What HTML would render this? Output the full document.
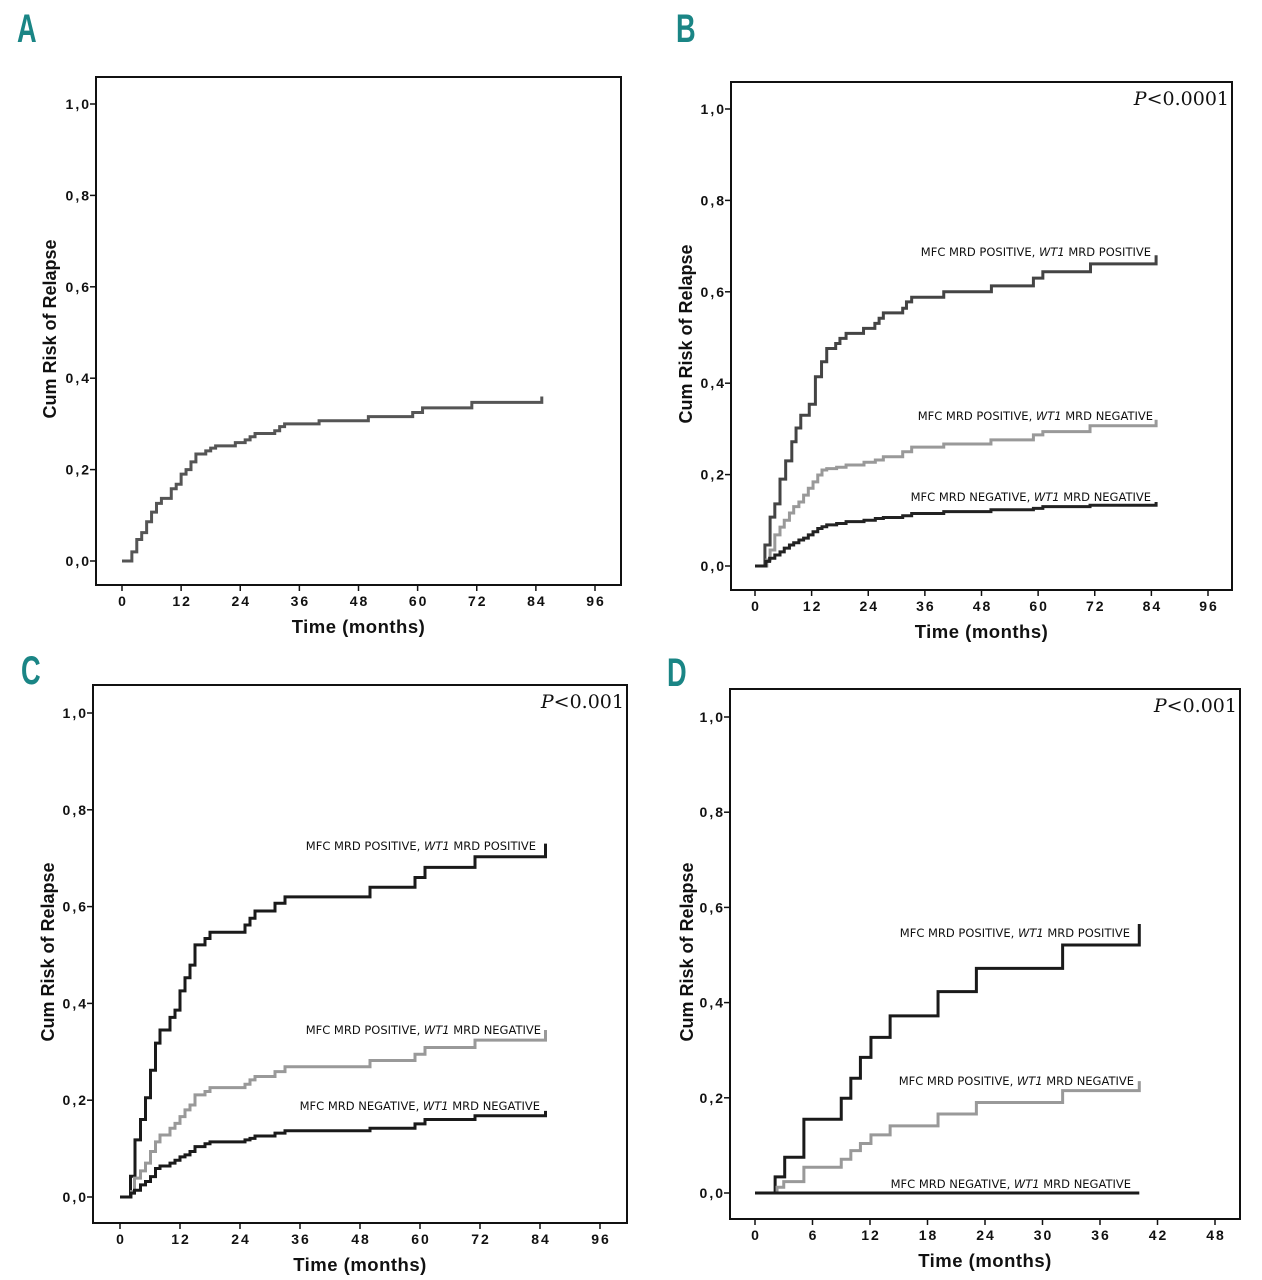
<!DOCTYPE html>
<html><head><meta charset="utf-8"><style>
html,body{margin:0;padding:0;background:#fff;}
svg{display:block;}
.tk{font-family:"Liberation Sans",sans-serif;font-weight:bold;font-size:14px;letter-spacing:2px;fill:#111;}
.ttl{font-family:"Liberation Sans",sans-serif;font-weight:bold;font-size:18px;fill:#111;}
.xttl{font-family:"Liberation Sans",sans-serif;font-weight:bold;font-size:18.5px;letter-spacing:0.5px;fill:#111;}
.lbl{font-family:"DejaVu Sans","Liberation Sans",sans-serif;font-size:11.5px;fill:#111;}
.pv{font-family:"DejaVu Serif","Liberation Serif",serif;font-size:19px;fill:#111;}
.let{font-family:"Liberation Sans",sans-serif;font-weight:bold;font-size:40px;fill:#1a8585;}
</style></head><body>
<svg id="fig" width="1262" height="1280" viewBox="0 0 1262 1280" xmlns="http://www.w3.org/2000/svg"></svg>
<script>
// ---- data ----
const aTimes=[0,2,3,4,5,6,7,8,10,11,12,13,14,15,17,18,19,23,25,26,27,31,32,33,40,50,59,61,71,85.2,85.2];
const aVals=[0,0.02,0.047,0.062,0.086,0.107,0.126,0.137,0.158,0.168,0.19,0.2,0.217,0.234,0.241,0.247,0.252,0.259,0.265,0.272,0.279,0.285,0.294,0.3,0.307,0.316,0.325,0.335,0.347,0.347,0.36];

const bPosPosTimes=[0,2.1,3.2,4.2,5.3,6.5,7.8,8.7,9.7,11.5,12.8,14.1,15.2,17.1,18,19.3,23,25.4,26.3,27.2,31.3,32.1,33.2,40,50.1,59,61,71.1,85,85];
const bPosPosVals=[0,0.046,0.107,0.136,0.19,0.23,0.272,0.302,0.33,0.354,0.414,0.447,0.476,0.487,0.498,0.509,0.52,0.531,0.542,0.554,0.564,0.578,0.588,0.6,0.613,0.63,0.644,0.661,0.661,0.68];
const bPosNegTimes=[0,2.5,3.2,4.2,5.3,6.2,7.3,8.2,9.3,10.3,11.3,12.3,13.3,14.2,15.2,17.3,19.3,23.1,25.5,27.2,31.3,33.2,40,50,59,61,71,85,85];
const bPosNegVals=[0,0.013,0.035,0.068,0.085,0.1,0.116,0.13,0.14,0.155,0.17,0.184,0.199,0.21,0.213,0.216,0.221,0.227,0.232,0.239,0.25,0.26,0.267,0.276,0.287,0.294,0.307,0.307,0.32];
const bNegNegTimes=[0,2.3,3.1,4.2,5.3,6.2,7.3,8.2,9.3,10.3,11.3,12.3,13.3,14.2,15.2,17.3,19.3,23.1,25.5,27.2,31.3,33.2,40,50,59,61,71,85,85];
const bNegNegVals=[0,0.01,0.017,0.024,0.031,0.039,0.046,0.051,0.057,0.061,0.068,0.075,0.082,0.086,0.09,0.093,0.097,0.1,0.104,0.106,0.11,0.115,0.119,0.123,0.126,0.13,0.133,0.133,0.14];

const cPosPosTimes=[0,2.1,3,4.1,5.1,6.1,7.1,8,10,11,12,13,14,15,17,18,25,26,27,31,33,50,59,61,71,85.1,85.1];
const cPosPosVals=[0,0.043,0.118,0.16,0.205,0.262,0.318,0.345,0.371,0.386,0.426,0.453,0.479,0.521,0.534,0.547,0.562,0.576,0.591,0.607,0.62,0.64,0.66,0.681,0.703,0.703,0.73];
const cPosNegTimes=[0,2.3,2.9,4.1,5.1,6.1,7.1,8,10,11,12,13,14,15,17,18,25,26,27,31,33,50,59,61,71,85.1,85.1];
const cPosNegVals=[0,0.011,0.039,0.054,0.07,0.094,0.114,0.128,0.142,0.152,0.166,0.18,0.19,0.211,0.218,0.226,0.233,0.242,0.249,0.259,0.269,0.282,0.295,0.309,0.324,0.324,0.345];
const cNegNegTimes=[0,2.1,2.9,4.1,5.1,6.1,7.1,8,10,11,12,13,14,15,17,18,25,26,27,31,33,50,59,61,71,85.1,85.1];
const cNegNegVals=[0,0.008,0.014,0.025,0.032,0.042,0.059,0.064,0.07,0.076,0.083,0.087,0.094,0.104,0.11,0.114,0.118,0.121,0.126,0.132,0.137,0.142,0.151,0.16,0.168,0.168,0.178];

const dPosPosTimes=[0,2.1,3.1,5.1,9,10,11,12.1,14.1,19.1,23.1,32.1,40.1,40.1];
const dPosPosVals=[0,0.034,0.075,0.155,0.199,0.241,0.285,0.327,0.372,0.423,0.472,0.521,0.521,0.565];
const dPosNegTimes=[0,2.3,3,5.1,9,10,11,12.1,14.1,19.1,23.1,32.1,40.1,40.1];
const dPosNegVals=[0,0.012,0.024,0.054,0.071,0.089,0.104,0.122,0.141,0.166,0.19,0.215,0.215,0.235];
const dNegNegTimes=[0,40.1];
const dNegNegVals=[0,0];

const yTickVals=[0,0.2,0.4,0.6,0.8,1.0];
const yTickLabels=["0,0","0,2","0,4","0,6","0,8","1,0"];
const xTicks96=[0,12,24,36,48,60,72,84,96];
const xTicks48=[0,6,12,18,24,30,36,42,48];

// ---- drawing ----
const NS="http://www.w3.org/2000/svg";
const svg=document.getElementById('fig');
function el(tag,attrs,parent,text){const e=document.createElementNS(NS,tag);for(const k in attrs)e.setAttribute(k,attrs[k]);if(text!==undefined)e.textContent=text;(parent||svg).appendChild(e);return e;}

function panel(p){
  const g=el('g',{});
  
  
  const xs=t=>p.x0+(t/p.xMax)*(p.x1-p.x0);
  const ys=v=>p.y0-v*(p.y0-p.y1);
  const lt=el('text',{x:0,y:0,class:'let',transform:`translate(${p.letX},${p.letY}) scale(0.68,1)`},g,p.id.toUpperCase());
  
  
  const fr=el('rect',{x:p.fl,y:p.ft,width:p.fr-p.fl,height:p.fb-p.ft,fill:'none',stroke:'#111','stroke-width':2},g);
  
  
  yTickVals.forEach((v,i)=>{
    el('line',{x1:p.fl-6,x2:p.fl,y1:ys(v),y2:ys(v),stroke:'#111','stroke-width':1.5},g);
    const t=el('text',{x:p.fl-5,y:ys(v)+5,'text-anchor':'end',class:'tk'},g,yTickLabels[i]);
    
    
  });
  p.xTicks.forEach(v=>{
    el('line',{x1:xs(v),x2:xs(v),y1:p.fb,y2:p.fb+6,stroke:'#111','stroke-width':1.5},g);
    const t=el('text',{x:xs(v)+1,y:p.fb+21,'text-anchor':'middle',class:'tk'},g,String(v));
    
    
  });
  const xt=el('text',{x:(p.fl+p.fr)/2+(p.xtOff||0),y:p.fb+48,'text-anchor':'middle',class:'xttl'},g,'Time (months)');
  
  
  const ycx=p.ytX, ycy=(p.ft+p.fb)/2-2;
  const yt=el('text',{x:ycx,y:ycy,'text-anchor':'middle',class:'ttl',transform:`rotate(-90 ${ycx} ${ycy})`},g,'Cum Risk of Relapse');
  
  
  p.series.forEach(s=>{
    let d=`M${xs(s.t[0])},${ys(s.v[0])}`;
    for(let i=1;i<s.t.length;i++){d+=` H${xs(s.t[i])} V${ys(s.v[i])}`;}
    const pa=el('path',{d:d,fill:'none',stroke:s.c,'stroke-width':3,'stroke-linejoin':'miter'},g);
    
    
    if(s.lbl){
      const tx=el('text',{x:s.lx,y:s.ly,'text-anchor':'end',class:'lbl'},g);
      
      
      const parts=s.lbl.split('WT1');
      el('tspan',{},tx,parts[0]);
      el('tspan',{'font-style':'italic'},tx,'WT1');
      el('tspan',{},tx,parts[1]);
    }
  });
  if(p.pv){
    const t=el('text',{x:p.fr-3,y:p.ft+23,'text-anchor':'end',class:'pv'},g);
    
    
    el('tspan',{'font-style':'italic'},t,'P');
    el('tspan',{},t,p.pv);
  }
}
const L1='MFC MRD POSITIVE, WT1 MRD POSITIVE', L2='MFC MRD POSITIVE, WT1 MRD NEGATIVE', L3='MFC MRD NEGATIVE, WT1 MRD NEGATIVE';
panel({id:'a',letX:17,letY:42,fl:96,fr:621,ft:77,fb:585,x0:122,x1:595,xMax:96,y0:561,y1:104,xTicks:xTicks96,ytX:56,
  series:[{n:'overall',t:aTimes,v:aVals,c:'#555'}]});
panel({id:'b',letX:676,letY:42,fl:731,fr:1232,ft:82,fb:590,x0:755,x1:1208,xMax:96,y0:566,y1:109,xTicks:xTicks96,ytX:692,pv:'<0.0001',
  series:[{n:'mfc-pos-wt1-pos',t:bPosPosTimes,v:bPosPosVals,c:'#444',lbl:L1,lx:1151,ly:256},
          {n:'mfc-pos-wt1-neg',t:bPosNegTimes,v:bPosNegVals,c:'#999',lbl:L2,lx:1153,ly:420},
          {n:'mfc-neg-wt1-neg',t:bNegNegTimes,v:bNegNegVals,c:'#222',lbl:L3,lx:1151,ly:501}]});
panel({id:'c',letX:21,letY:684,fl:93,fr:627,ft:685,fb:1223,x0:120,x1:600,xMax:96,y0:1197,y1:713,xTicks:xTicks96,ytX:54,pv:'<0.001',
  series:[{n:'mfc-pos-wt1-pos',t:cPosPosTimes,v:cPosPosVals,c:'#1a1a1a',lbl:L1,lx:536,ly:850},
          {n:'mfc-pos-wt1-neg',t:cPosNegTimes,v:cPosNegVals,c:'#999',lbl:L2,lx:541,ly:1034},
          {n:'mfc-neg-wt1-neg',t:cNegNegTimes,v:cNegNegVals,c:'#1a1a1a',lbl:L3,lx:540,ly:1110}]});
panel({id:'d',letX:667,letY:686,fl:730,fr:1240,ft:689,fb:1219,x0:755,x1:1215,xMax:48,y0:1193,y1:717,xTicks:xTicks48,ytX:693,pv:'<0.001',
  series:[{n:'mfc-pos-wt1-pos',t:dPosPosTimes,v:dPosPosVals,c:'#1a1a1a',lbl:L1,lx:1130,ly:937},
          {n:'mfc-pos-wt1-neg',t:dPosNegTimes,v:dPosNegVals,c:'#999',lbl:L2,lx:1134,ly:1085},
          {n:'mfc-neg-wt1-neg',t:dNegNegTimes,v:dNegNegVals,c:'#1a1a1a',lbl:L3,lx:1131,ly:1188}]});
</script>
</body></html>
